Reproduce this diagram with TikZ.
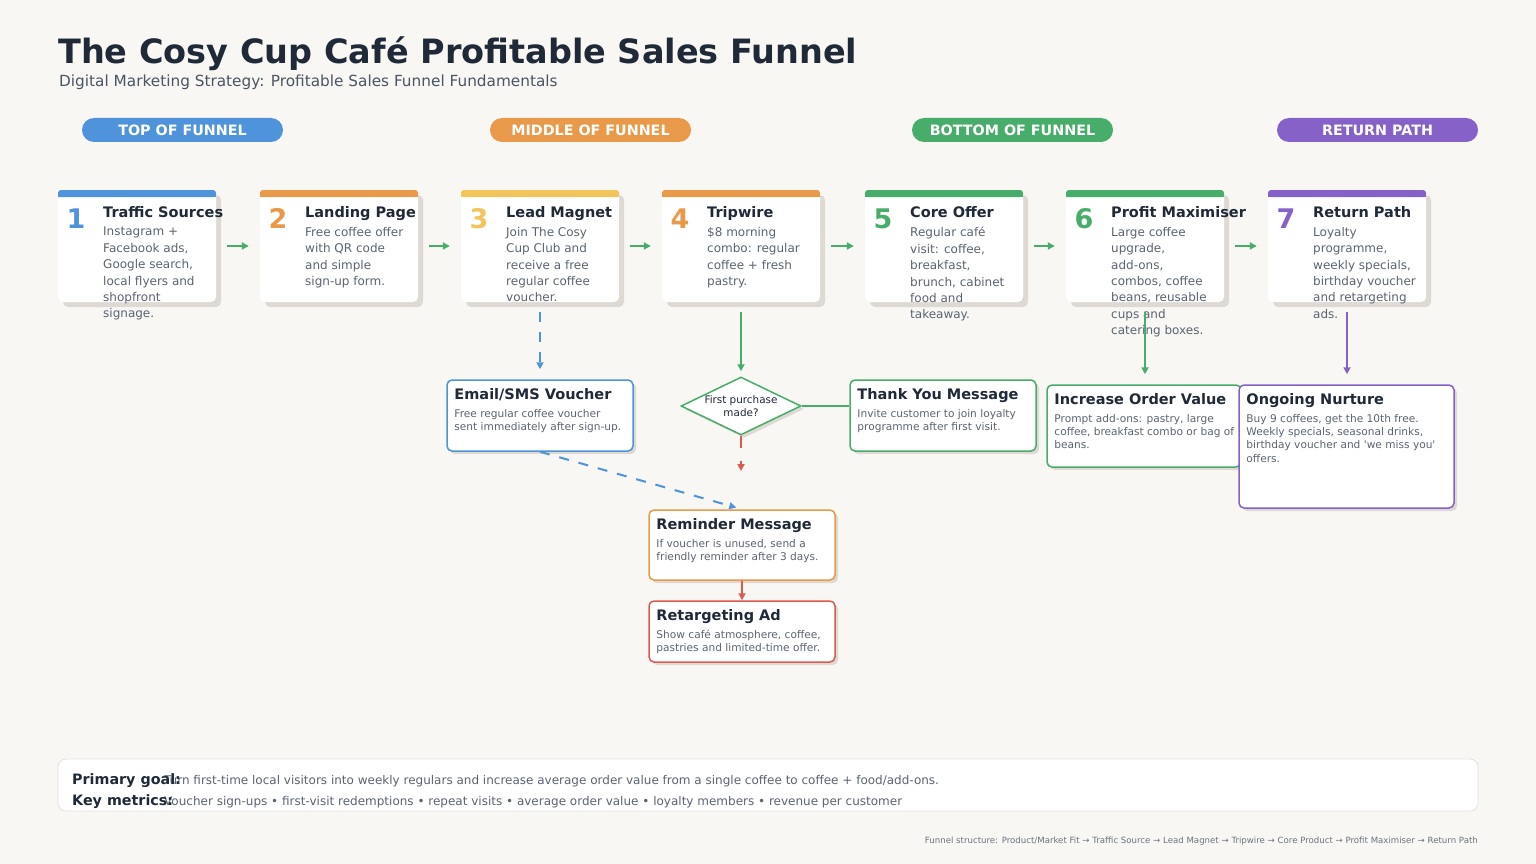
\documentclass[tikz,border=0pt]{standalone}
\usepackage{fontspec}
\setmainfont{DejaVu Sans}
\usetikzlibrary{arrows.meta,shapes.geometric,shadows}
\definecolor{bgc}{HTML}{F8F7F4}
\definecolor{titlec}{HTML}{1F2937}
\definecolor{subc}{HTML}{4B5563}
\definecolor{bodyc}{HTML}{5B6472}
\definecolor{bluec}{HTML}{4F93DB}
\definecolor{orangec}{HTML}{E8994A}
\definecolor{yellowc}{HTML}{F2C55C}
\definecolor{greenc}{HTML}{48AD6A}
\definecolor{purplec}{HTML}{8561C8}
\definecolor{redc}{HTML}{DB5B50}
\definecolor{shadowc}{HTML}{DEDAD3}
\definecolor{framec}{HTML}{E3E1DC}
\definecolor{notec}{HTML}{6B7280}
\newcommand\fs[2]{\fontsize{#1}{#2}\selectfont}
\tikzset{
 cardbox/.style={fill=white, rounded corners=5pt, minimum width=158pt, minimum height=112pt, inner sep=0pt,
   drop shadow={shadow xshift=5pt, shadow yshift=-5pt, fill=shadowc, opacity=1}},
 numtxt/.style={anchor=base, inner sep=0pt, font=\bfseries\fs{27}{30}},
 cardtitle/.style={anchor=base west, inner sep=0pt, font=\bfseries\fs{14.5}{17}, text=titlec},
 cardbody/.style={anchor=north west, inner sep=0pt, align=left, font=\fs{12}{16.4}, text=bodyc},
 pill/.style={rounded corners=12pt, minimum width=201pt, minimum height=24pt, inner sep=0pt, text=white, font=\bfseries\fs{14.3}{16}},
 infobox/.style={fill=white, line width=1.5pt, rounded corners=5pt, inner sep=0pt,
   drop shadow={shadow xshift=3pt, shadow yshift=-3pt, fill=shadowc, opacity=1}},
 boxtitle/.style={anchor=base west, inner sep=0pt, font=\bfseries\fs{14.5}{17}, text=titlec},
 boxbody/.style={anchor=north west, inner sep=0pt, align=left, font=\fs{10.6}{13.4}, text=bodyc},
 flow/.style={line width=2pt, -{Triangle[length=7pt,width=7pt]}},
}
\newcommand\stagecard[6]{%
 \node[cardbox] (#1) at (#2+79,246) {};
 \fill[#3, rounded corners=3pt] (#2,190) rectangle (#2+158,197);
 \fill[#3] (#2,194) rectangle (#2+158,197);
 \node[numtxt, text=#3] (#1n) at (#2+18,228) {#4};
 \node[cardtitle] (#1t) at (#2+45,217) {#5};
 \node[cardbody] (#1b) at (#2+45,227) {#6};
}
\begin{document}
\begin{tikzpicture}[x=1pt,y=-1pt]
\fill[bgc] (0,0) rectangle (1536,864);
\useasboundingbox (0,0) rectangle (1536,864);

\node[anchor=base west, inner sep=0pt, font=\bfseries\fs{33.5}{40}, text=titlec] (title) at (58,64) {The Cosy Cup Café Profitable Sales Funnel};
\node[anchor=base west, inner sep=0pt, font=\fs{15.3}{18}, text=subc] (subtitle) at (59,87) {Digital Marketing Strategy: Profitable Sales Funnel Fundamentals};

\node[pill, fill=bluec] (p1) at (182.5,130) {TOP OF FUNNEL};
\node[pill, fill=orangec] (p2) at (590.5,130) {MIDDLE OF FUNNEL};
\node[pill, fill=greenc] (p3) at (1012.5,130) {BOTTOM OF FUNNEL};
\node[pill, fill=purplec] (p4) at (1377.5,130) {RETURN PATH};

\stagecard{c1}{58}{bluec}{1}{Traffic Sources}{Instagram +\\Facebook ads,\\Google search,\\local flyers and\\shopfront\\signage.}
\stagecard{c2}{260}{orangec}{2}{Landing Page}{Free coffee offer\\with QR code\\and simple\\sign-up form.}
\stagecard{c3}{461}{yellowc}{3}{Lead Magnet}{Join The Cosy\\Cup Club and\\receive a free\\regular coffee\\voucher.}
\stagecard{c4}{662}{orangec}{4}{Tripwire}{\$8 morning\\combo: regular\\coffee + fresh\\pastry.}
\stagecard{c5}{865}{greenc}{5}{Core Offer}{Regular café\\visit: coffee,\\breakfast,\\brunch, cabinet\\food and\\takeaway.}
\stagecard{c6}{1066}{greenc}{6}{Profit Maximiser}{Large coffee\\upgrade,\\add-ons,\\combos, coffee\\beans, reusable\\cups and\\catering boxes.}
\stagecard{c7}{1268}{purplec}{7}{Return Path}{Loyalty\\programme,\\weekly specials,\\birthday voucher\\and retargeting\\ads.}

\foreach \a/\b in {c1/c2,c2/c3,c3/c4,c4/c5,c5/c6,c6/c7}
  \draw[flow, greenc, shorten <=11pt, shorten >=11pt] (\a.east) -- (\b.west);

% boxes
\node[infobox, draw=bluec, minimum width=186pt, minimum height=71pt] (email) at (540,415.5) {};
\node[boxtitle] (emailt) at ([xshift=8pt,yshift=-20.5pt]email.north west) {Email/SMS Voucher};
\node[boxbody] (emailb) at ([xshift=8pt,yshift=-29.5pt]email.north west) {Free regular coffee voucher\\sent immediately after sign-up.};

\node[diamond, draw=greenc, fill=white, line width=1.5pt, minimum width=120pt, minimum height=58pt, inner sep=0pt,
  drop shadow={shadow xshift=3pt, shadow yshift=-3pt, fill=shadowc, opacity=1}] (dia) at (741,406) {};
\node[align=center, inner sep=0pt, font=\fs{10.4}{13}, text=titlec] (diat) at (741,406) {First purchase\\made?};

\node[infobox, draw=greenc, minimum width=186pt, minimum height=71pt] (thanks) at (943,415.5) {};
\node[boxtitle] (thankst) at ([xshift=8pt,yshift=-20.5pt]thanks.north west) {Thank You Message};
\node[boxbody] (thanksb) at ([xshift=8pt,yshift=-29.5pt]thanks.north west) {Invite customer to join loyalty\\programme after first visit.};

\node[infobox, draw=greenc, minimum width=194pt, minimum height=82pt] (aov) at (1144,426) {};
\node[boxtitle] (aovt) at ([xshift=8pt,yshift=-20.5pt]aov.north west) {Increase Order Value};
\node[boxbody] (aovb) at ([xshift=8pt,yshift=-29.5pt]aov.north west) {Prompt add-ons: pastry, large\\coffee, breakfast combo or bag of\\beans.};

\node[infobox, draw=purplec, minimum width=215pt, minimum height=123pt] (nurture) at (1346.5,446.5) {};
\node[boxtitle] (nurturet) at ([xshift=8pt,yshift=-20.5pt]nurture.north west) {Ongoing Nurture};
\node[boxbody] (nurtureb) at ([xshift=8pt,yshift=-29.5pt]nurture.north west) {Buy 9 coffees, get the 10th free.\\Weekly specials, seasonal drinks,\\birthday voucher and \textquotesingle we miss you\textquotesingle\\offers.};

\node[infobox, draw=orangec, minimum width=186pt, minimum height=70pt] (remind) at (742,545) {};
\node[boxtitle] (remindt) at ([xshift=8pt,yshift=-20.5pt]remind.north west) {Reminder Message};
\node[boxbody] (remindb) at ([xshift=8pt,yshift=-29.5pt]remind.north west) {If voucher is unused, send a\\friendly reminder after 3 days.};

\node[infobox, draw=redc, minimum width=186pt, minimum height=61pt] (retarget) at (742,631.5) {};
\node[boxtitle] (retargett) at ([xshift=8pt,yshift=-20.5pt]retarget.north west) {Retargeting Ad};
\node[boxbody] (retargetb) at ([xshift=8pt,yshift=-29.5pt]retarget.north west) {Show café atmosphere, coffee,\\pastries and limited-time offer.};

% connectors
\draw[flow, bluec, dash pattern=on 10pt off 10pt, shorten <=10pt, shorten >=10pt] (c3.south) -- (email.north -| c3.south);
\draw[flow, greenc, shorten <=10pt, shorten >=5pt] (dia.north |- c4.south) -- (dia.north);
\draw[line width=2pt, greenc] (dia.east) -- (dia.east -| thanks.west);
\coordinate (noend) at (741,471);
\draw[flow, redc, dash pattern=on 12pt off 13pt] (dia.south) -- (noend);
\draw[flow, bluec, dash pattern=on 10pt off 10pt, shorten >=6pt] (email.south) -- (remind.north);
\draw[flow, redc] (remind.south) -- (retarget.north);
\draw[flow, greenc, shorten <=10pt, shorten >=10pt] (c6.south) -- (c6.south |- aov.north);
\draw[flow, purplec, shorten <=10pt, shorten >=10pt] (c7.south) -- (c7.south |- nurture.north);

% footer
\node[fill=white, draw=framec, line width=0.8pt, rounded corners=8pt, minimum width=1420pt, minimum height=52pt, inner sep=0pt] (goalbox) at (768,785) {};
\node[anchor=base west, inner sep=0pt, font=\fs{12}{15}, text=bodyc] (goaltxt) at (164,784) {Turn first-time local visitors into weekly regulars and increase average order value from a single coffee to coffee + food/add-ons.};
\node[anchor=base west, inner sep=0pt, font=\fs{12}{15}, text=bodyc] (metrictxt) at (164,805) {Voucher sign-ups • first-visit redemptions • repeat visits • average order value • loyalty members • revenue per customer};
\node[anchor=base west, inner sep=0pt, font=\bfseries\fs{14.3}{17}, text=titlec] (goallbl) at (72,784) {Primary goal:};
\node[anchor=base west, inner sep=0pt, font=\bfseries\fs{14.3}{17}, text=titlec] (metriclbl) at (72,805) {Key metrics:};

\node[anchor=base east, inner sep=0pt, font=\fs{8.6}{10}, text=notec] (note) at (1478,843) {Funnel structure: Product/Market Fit → Traffic Source → Lead Magnet → Tripwire → Core Product → Profit Maximiser → Return Path};
\end{tikzpicture}
\end{document}
